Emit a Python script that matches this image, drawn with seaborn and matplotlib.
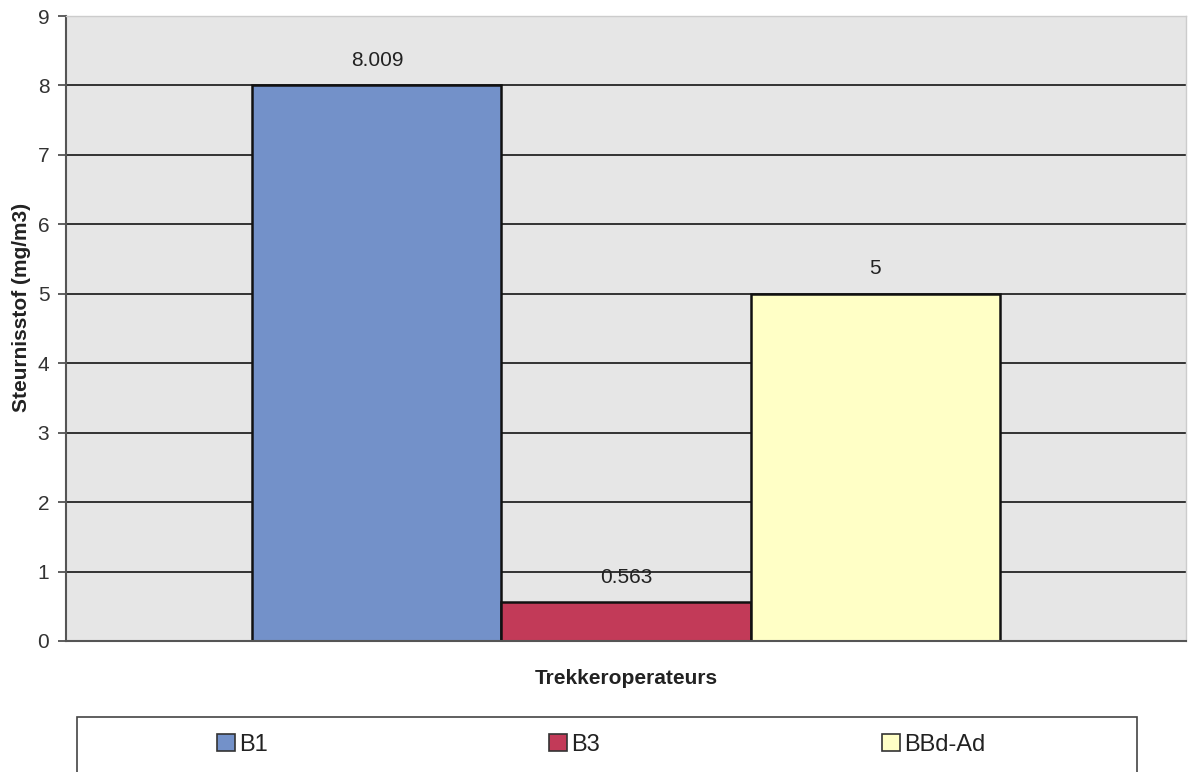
import matplotlib
matplotlib.use('Agg')
import seaborn as sns
import matplotlib.pyplot as plt
import pandas as pd
from matplotlib.patches import Rectangle, Patch

# data
categorie = 'Trekkeroperateurs'
groepen = ['B1', 'B3', 'BBd-Ad']
waarden = [8.009, 0.563, 5]
waarde_labels = ['8.009', '0.563', '5']
kleuren = ['#7391c9', '#c23a58', '#ffffc6']
yticks = [0, 1, 2, 3, 4, 5, 6, 7, 8, 9]

df = pd.DataFrame({'x': [categorie] * len(groepen), 'groep': groepen, 'stof': waarden})

sns.set_style('white')
plt.rcParams['font.family'] = ['Liberation Sans', 'DejaVu Sans']

fig = plt.figure(figsize=(11.92, 7.72), dpi=100)
ax = fig.add_axes([66 / 1192, 1 - 641 / 772, 1120 / 1192, 625 / 772])
ax.set_facecolor('#e6e6e6')
ax.set_axisbelow(True)

sns.barplot(data=df, x='x', y='stof', hue='groep', hue_order=groepen, palette=kleuren,
            saturation=1, width=0.667, edgecolor='#111111', linewidth=1.8,
            legend=False, ax=ax)

for cont, lab in zip(ax.containers, waarde_labels):
    ax.bar_label(cont, labels=[lab], padding=11, fontsize=15, color='#222222')

ax.set_xlim(-0.5, 0.5)
ax.set_ylim(0, 9)
ax.set_yticks(yticks)
ax.set_xticks([])
ax.yaxis.grid(True, color='#333333', linewidth=1.4)
ax.tick_params(axis='y', length=6, width=1.2, color='#444444', labelsize=15,
               labelcolor='#333333', pad=6, left=True)

for s in ['left', 'bottom']:
    ax.spines[s].set_color('#555555')
    ax.spines[s].set_linewidth(1.5)
for s in ['top', 'right']:
    ax.spines[s].set_color('#cccccc')
    ax.spines[s].set_linewidth(1.0)

ax.set_xlabel(categorie, fontsize=15, fontweight='bold', color='#222222')
ax.xaxis.set_label_coords(0.5, -0.045)
ax.set_ylabel('Steurnisstof (mg/m3)', fontsize=15, fontweight='bold', color='#222222')
ax.yaxis.set_label_coords(-0.031, 0.533)

# legend box
fig.patches.append(Rectangle((77 / 1192, -0.05), 1060 / 1192, 1 - 717 / 772 + 0.05,
                             transform=fig.transFigure, facecolor='white',
                             edgecolor='#444444', linewidth=1.2))
leg_x = [217, 549, 882]
for g, c, lx in zip(groepen, kleuren, leg_x):
    leg = fig.legend(handles=[Patch(facecolor=c, edgecolor='#333333', linewidth=1.2)],
                     labels=[g], loc='center left',
                     bbox_to_anchor=(lx / 1192, 1 - 745 / 772), frameon=False,
                     fontsize=17, handlelength=0.75, handleheight=0.75,
                     handletextpad=0.2, borderpad=0, borderaxespad=0)
    for t in leg.get_texts():
        t.set_color('#222222')

fig.savefig('out.png', dpi=100)
